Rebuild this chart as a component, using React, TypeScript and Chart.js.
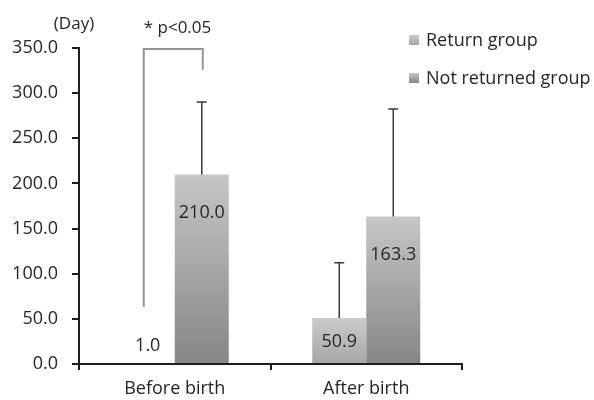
import React, { useEffect, useRef } from "react";
import { Chart, registerables } from "chart.js";

Chart.register(...registerables);

const categories = ["Before birth", "After birth"];
const seriesNames = ["Return group", "Not returned group"];
const returnValues = [1.0, 50.9];
const notReturnedValues = [210.0, 163.3];
const returnErrors = [0, 61.3];
const notReturnedErrors = [80.2, 119.1];
const yMin = 0;
const yMax = 350;
const yStep = 50;
// bracket: left foot, top, right foot (in days)
const bracketValues = [63, 349, 326];
const significanceText = "* p<0.05";
const unitLabel = "(Day)";

const FONT = "'Open Sans', 'Noto Sans', sans-serif";
const TEXT = "#262626";
const AXIS = "#1e1e1e";

const returnColors = ["#cbcbcb", "#a6a6a6"];
const notReturnedColors = ["#c6c6c6", "#868686"];

function barGradient(colors: string[]) {
  return (ctx: any) => {
    const chart = ctx.chart;
    const y = chart.scales && chart.scales.y;
    if (!y || ctx.type !== "data" || !chart.chartArea) return colors[1];
    const y0 = y.getPixelForValue(ctx.raw);
    const y1 = y.getPixelForValue(0);
    if (!isFinite(y0) || !isFinite(y1) || y1 - y0 < 1) return colors[1];
    const g = chart.ctx.createLinearGradient(0, y0, 0, y1);
    g.addColorStop(0, colors[0]);
    g.addColorStop(1, colors[1]);
    return g;
  };
}

const annotationPlugin = {
  id: "annotations",
  afterDraw(chart: any) {
    const ctx = chart.ctx as CanvasRenderingContext2D;
    const y = chart.scales.y;
    const area = chart.chartArea;
    const errors = [returnErrors, notReturnedErrors];
    const values = [returnValues, notReturnedValues];
    ctx.save();

    // error bars
    ctx.strokeStyle = "#3a3a3a";
    ctx.lineWidth = 1.5;
    for (let d = 0; d < 2; d++) {
      const meta = chart.getDatasetMeta(d);
      meta.data.forEach((bar: any, i: number) => {
        const e = errors[d][i];
        if (!e) return;
        const top = y.getPixelForValue(values[d][i] + e);
        ctx.beginPath();
        ctx.moveTo(bar.x, bar.y);
        ctx.lineTo(bar.x, top);
        ctx.moveTo(bar.x - 5, top);
        ctx.lineTo(bar.x + 5, top);
        ctx.stroke();
      });
    }

    // value labels
    ctx.fillStyle = TEXT;
    ctx.font = `18px ${FONT}`;
    ctx.textAlign = "center";
    ctx.textBaseline = "middle";
    for (let d = 0; d < 2; d++) {
      const meta = chart.getDatasetMeta(d);
      meta.data.forEach((bar: any, i: number) => {
        const h = bar.base - bar.y;
        let ly;
        if (h > 80) ly = bar.y + 37;
        else if (h > 20) ly = (bar.y + bar.base) / 2;
        else ly = bar.y - 18;
        ctx.fillText(values[d][i].toFixed(1), bar.x, ly + 1);
      });
    }

    // significance bracket
    const m0 = chart.getDatasetMeta(0).data[0];
    const m1 = chart.getDatasetMeta(1).data[0];
    const lx = m0.x - 4;
    const rx = m1.x + 1;
    const yl = y.getPixelForValue(bracketValues[0]);
    const yt = y.getPixelForValue(bracketValues[1]);
    const yr = y.getPixelForValue(bracketValues[2]);
    ctx.strokeStyle = "#959595";
    ctx.lineWidth = 2;
    ctx.beginPath();
    ctx.moveTo(lx, yl);
    ctx.lineTo(lx, yt);
    ctx.lineTo(rx, yt);
    ctx.lineTo(rx, yr);
    ctx.stroke();

    ctx.fillStyle = TEXT;
    ctx.font = `17px ${FONT}`;
    ctx.textAlign = "left";
    ctx.fillText(significanceText, lx, yt - 21);

    // unit label
    ctx.font = `17px ${FONT}`;
    ctx.textAlign = "center";
    ctx.fillText(unitLabel, area.left - 5, area.top - 24);

    // legend
    const legendColors = [returnColors, notReturnedColors];
    const lgX = area.right - 53;
    const lgY = [area.top - 8, area.top + 30];
    ctx.font = `18px ${FONT}`;
    ctx.textAlign = "left";
    for (let d = 0; d < 2; d++) {
      const cy = lgY[d];
      const g = ctx.createLinearGradient(0, cy - 5, 0, cy + 5);
      g.addColorStop(0, legendColors[d][0]);
      g.addColorStop(1, legendColors[d][1]);
      ctx.fillStyle = g;
      ctx.fillRect(lgX, cy - 5, 10, 10);
      ctx.fillStyle = TEXT;
      ctx.fillText(seriesNames[d], lgX + 17, cy + 1);
    }
    ctx.restore();
  },
};

export default function App() {
  const canvasRef = useRef<HTMLCanvasElement | null>(null);

  useEffect(() => {
    document.body.style.margin = "0";
    const canvas = canvasRef.current;
    if (!canvas) return;
    const chart = new Chart(canvas, {
      type: "bar",
      data: {
        labels: categories,
        datasets: [
          {
            label: seriesNames[0],
            data: returnValues,
            backgroundColor: barGradient(returnColors),
            borderWidth: 0,
            categoryPercentage: 0.564,
            barPercentage: 1,
          },
          {
            label: seriesNames[1],
            data: notReturnedValues,
            backgroundColor: barGradient(notReturnedColors),
            borderWidth: 0,
            categoryPercentage: 0.564,
            barPercentage: 1,
          },
        ],
      },
      options: {
        animation: false,
        responsive: false,
        devicePixelRatio: 1,
        layout: { padding: { top: 48, right: 132, bottom: 0, left: 0 } },
        plugins: {
          legend: { display: false },
          tooltip: { enabled: false },
        },
        scales: {
          x: {
            grid: {
              drawOnChartArea: false,
              drawTicks: true,
              tickLength: 6,
              color: AXIS,
              lineWidth: 2,
              offset: true,
            },
            border: { color: AXIS, width: 2 },
            ticks: {
              padding: 8,
              color: TEXT,
              font: { family: FONT, size: 18 },
            },
            afterFit: (s: any) => {
              s.height = 36;
            },
          },
          y: {
            min: yMin,
            max: yMax,
            ticks: {
              stepSize: yStep,
              padding: 14,
              color: TEXT,
              font: { family: FONT, size: 18 },
              callback: (v: any) => Number(v).toFixed(1),
            },
            grid: {
              drawOnChartArea: false,
              drawTicks: true,
              tickLength: 7,
              color: AXIS,
              lineWidth: 2,
            },
            border: { color: AXIS, width: 2 },
            afterFit: (s: any) => {
              s.width = 79;
            },
          },
        },
      },
      plugins: [annotationPlugin],
    });
    return () => chart.destroy();
  }, []);

  return (
    <div style={{ width: 594, height: 400, background: "#ffffff" }}>
      <canvas ref={canvasRef} width={594} height={400} style={{ display: "block" }} />
    </div>
  );
}
